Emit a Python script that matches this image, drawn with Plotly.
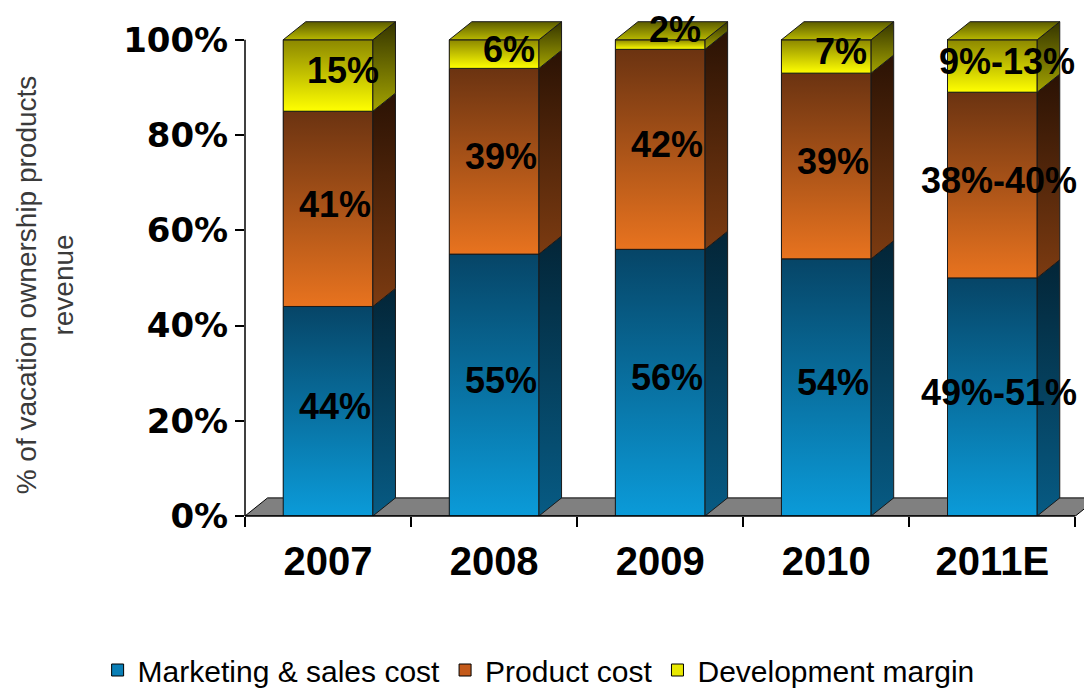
import plotly.graph_objects as go

# ---------------- data ----------------
years = ["2007", "2008", "2009", "2010", "2011E"]
marketing = [44, 55, 56, 54, 50]
product = [41, 39, 42, 39, 39]
development = [15, 6, 2, 7, 11]
marketing_labels = ["44%", "55%", "56%", "54%", "49%-51%"]
product_labels = ["41%", "39%", "42%", "39%", "38%-40%"]
development_labels = ["15%", "6%", "2%", "7%", "9%-13%"]
y_ticks = [0, 20, 40, 60, 80, 100]
y_tick_labels = ["0%", "20%", "40%", "60%", "80%", "100%"]

# ---------------- styles ----------------
series = [
    dict(name="Marketing & sales cost", values=marketing, labels=marketing_labels,
         legend="#0a7fb6", front=("#0b9bd9", "#064567"), side=("#075b84", "#032537")),
    dict(name="Product cost", values=product, labels=product_labels,
         legend="#c45a1a", front=("#e8731f", "#6b3311"), side=("#7c3b11", "#2a1204")),
    dict(name="Development margin", values=development, labels=development_labels,
         legend="#e8e800", front=("#ffff00", "#8c8800"), side=("#a3a300", "#353500")),
]
BAR_W = 0.54
DX = 0.136   # depth offset (x units)
DY = 3.8     # depth offset (y units)
FONT = "Liberation Sans, Arial, sans-serif"
TICK_FONT = "DejaVu Sans, Verdana, sans-serif"

fig = go.Figure()
xs = list(range(len(years)))

# flat bars (legend entries + base)
for s in series:
    fig.add_trace(go.Bar(
        x=xs, y=s["values"], width=BAR_W, name=s["name"],
        marker=dict(color=s["legend"], line=dict(color="black", width=1)),
        hoverinfo="skip",
    ))

# 3D faces derived from the data
annotations = []
totals = [0] * len(years)
for j, s in enumerate(series):
    for i, v in enumerate(s["values"]):
        y0 = totals[i]
        y1 = y0 + v
        xl, xr = i - BAR_W / 2, i + BAR_W / 2
        # front face with gradient
        fig.add_trace(go.Scatter(
            x=[xl, xr, xr, xl, xl], y=[y0, y0, y1, y1, y0],
            mode="lines", fill="toself",
            fillgradient=dict(type="vertical", start=y0, stop=y1,
                              colorscale=[[0, s["front"][0]], [1, s["front"][1]]]),
            line=dict(color="#1a1a1a", width=1), showlegend=False, hoverinfo="skip",
        ))
        # side face
        fig.add_trace(go.Scatter(
            x=[xr, xr + DX, xr + DX, xr, xr], y=[y0, y0 + DY, y1 + DY, y1, y0],
            mode="lines", fill="toself",
            fillgradient=dict(type="vertical", start=y0, stop=y1 + DY,
                              colorscale=[[0, s["side"][0]], [1, s["side"][1]]]),
            line=dict(color="#1a1a1a", width=1), showlegend=False, hoverinfo="skip",
        ))
        # label
        ann = dict(
            x=i, xref="x", yref="y", text=s["labels"][i], showarrow=False,
            xshift=15 if j == 2 else 7,
            font=dict(family=FONT, size=36, color="black", weight="bold"),
        )
        if v < 5:
            ann.update(y=y1 + 2.2, height=38)
        else:
            ann.update(y=y0 + v / 2 + 1)
        annotations.append(ann)
        totals[i] = y1

# top faces
for i, t in enumerate(totals):
    xl, xr = i - BAR_W / 2, i + BAR_W / 2
    fig.add_trace(go.Scatter(
        x=[xl, xr, xr + DX, xl + DX, xl], y=[t, t, t + DY, t + DY, t],
        mode="lines", fill="toself",
        fillgradient=dict(type="vertical", start=t, stop=t + DY,
                          colorscale=[[0, "#b8b800"], [1, "#5c5c00"]]),
        line=dict(color="#1a1a1a", width=1), showlegend=False, hoverinfo="skip",
    ))

# y-axis title
annotations.append(dict(
    x=-0.237, y=48.5, xref="paper", yref="y", textangle=-90, showarrow=False,
    xanchor="center", yanchor="middle",
    text="% of vacation ownership products<br>revenue",
    font=dict(family=FONT, size=28, color="#3a3a3a"),
))

n = len(years)
shapes = [
    # floor
    dict(type="path", xref="x", yref="y", layer="below",
         path=f"M -0.5,0 L {n - 0.5},0 L {n - 0.5 + DX},{DY} L {-0.5 + DX},{DY} Z",
         fillcolor="#808080", line=dict(color="black", width=1)),
    # x axis line
    dict(type="line", xref="x", yref="paper", x0=-0.5, x1=n - 0.5, y0=0, y1=0,
         line=dict(color="black", width=1.5)),
    # y axis line
    dict(type="line", xref="paper", yref="y", x0=0, x1=0, y0=0, y1=100,
         line=dict(color="black", width=1.5)),
]

# the page body adds an 8px margin, so the figure is 8px smaller than the window
fig.update_layout(
    width=1084, height=681,
    margin=dict(l=237, r=0, t=8, b=173, autoexpand=False),
    barmode="stack",
    paper_bgcolor="white", plot_bgcolor="white",
    font=dict(family=FONT, color="black"),
    annotations=annotations,
    shapes=shapes,
    legend=dict(orientation="h", x=-0.174, xanchor="left", y=-0.308, yanchor="middle",
                font=dict(family=FONT, size=30, color="black"), traceorder="normal"),
    xaxis=dict(range=[-0.5, n - 0.4], tickvals=xs, ticktext=years, ticks="",
               showline=False, showgrid=False, zeroline=False, automargin=False,
               ticklabelstandoff=18,
               tickfont=dict(family=FONT, size=40, color="black", weight="bold"),
               minor=dict(tickvals=[k - 0.5 for k in range(n + 1)], ticks="outside",
                          ticklen=10, tickcolor="black", tickwidth=1.5, showgrid=False)),
    yaxis=dict(range=[0, 105], tickvals=y_ticks, ticktext=y_tick_labels,
               ticks="outside", ticklen=9, tickcolor="black", tickwidth=1.5,
               showline=False, showgrid=False, zeroline=False, automargin=False,
               tickfont=dict(family=TICK_FONT, size=34, color="black", weight="bold")),
)

fig.write_html("out.html")
